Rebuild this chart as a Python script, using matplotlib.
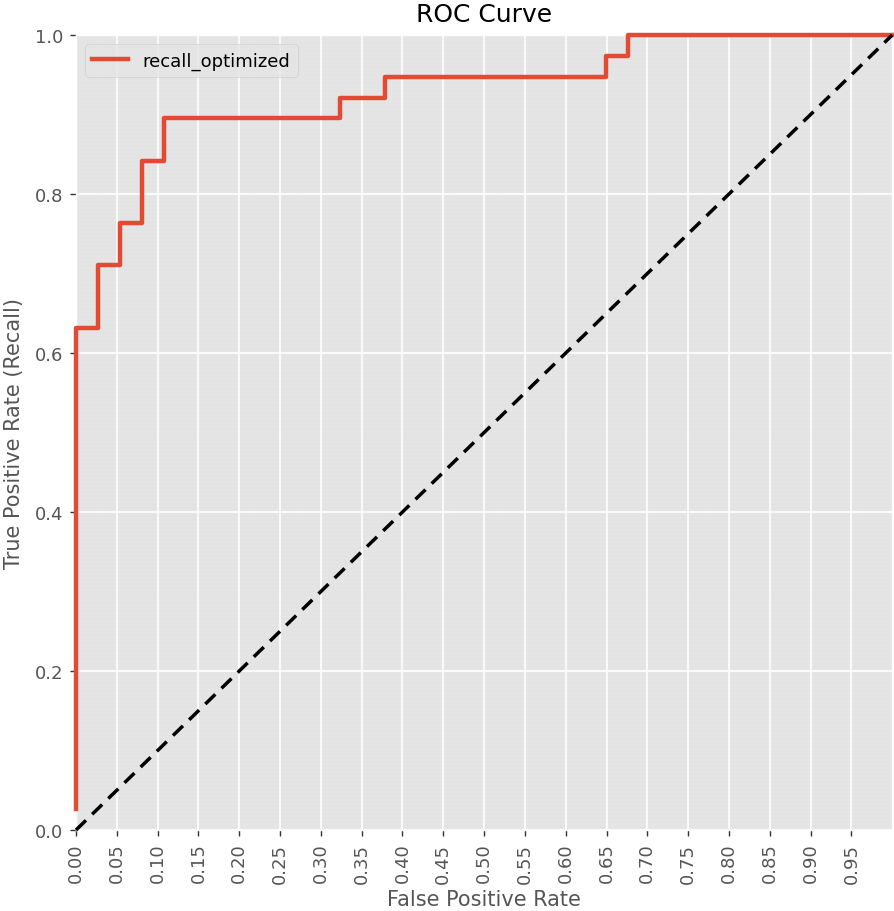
import numpy as np
import matplotlib
matplotlib.use("Agg")
import matplotlib.pyplot as plt
from matplotlib.ticker import MultipleLocator

plt.style.use("ggplot")
plt.rcParams["font.family"] = ["DejaVu Sans"]
plt.rcParams["font.size"] = 13

# ROC data (38 positives, 37 negatives)
fpr = [0.0, 0.0, 0.027, 0.027, 0.054, 0.054, 0.081, 0.081, 0.108, 0.108,
       0.324, 0.324, 0.378, 0.378, 0.649, 0.649, 0.676, 0.676, 1.0]
tpr = [0.026, 0.632, 0.632, 0.711, 0.711, 0.763, 0.763, 0.842, 0.842, 0.895,
       0.895, 0.921, 0.921, 0.947, 0.947, 0.974, 0.974, 1.0, 1.0]
label = "recall_optimized"
xticks = np.arange(0, 1, 0.05)

fig = plt.figure(figsize=(8.94, 9.12), dpi=100)
ax = fig.add_axes([0.085, 0.0888, 0.913, 0.8717])

ax.plot(fpr, tpr, color="#E24A33", linewidth=3.2, label=label, clip_on=False, zorder=3)
ax.plot([0, 1], [0, 1], color="black", linestyle=(0, (4, 2.5)), linewidth=2.5, clip_on=False, zorder=3)

ax.set_xlim(0, 1)
ax.set_ylim(0, 1)
ax.set_xticks(xticks)
ax.set_xticklabels([f"{v:.2f}" for v in xticks], rotation=90)
ax.xaxis.set_minor_locator(MultipleLocator(0.005))
ax.yaxis.set_minor_locator(MultipleLocator(0.005))
ax.tick_params(which="minor", length=0)
ax.tick_params(which="major", length=4, width=1, color="#333333", direction="out", pad=5)
ax.grid(True, which="major", color="white", linewidth=1.2)
ax.grid(True, which="minor", color="#dcdcdc", linestyle=":", linewidth=0.3, alpha=0.35)
ax.set_axisbelow(True)

ax.set_xlabel("False Positive Rate", fontsize=15, labelpad=5)
ax.set_ylabel("True Positive Rate (Recall)", fontsize=15, labelpad=8)
ax.set_title("ROC Curve", fontsize=18, pad=10)
ax.legend(loc="upper left", fontsize=13)

fig.savefig("out.png", dpi=100)
